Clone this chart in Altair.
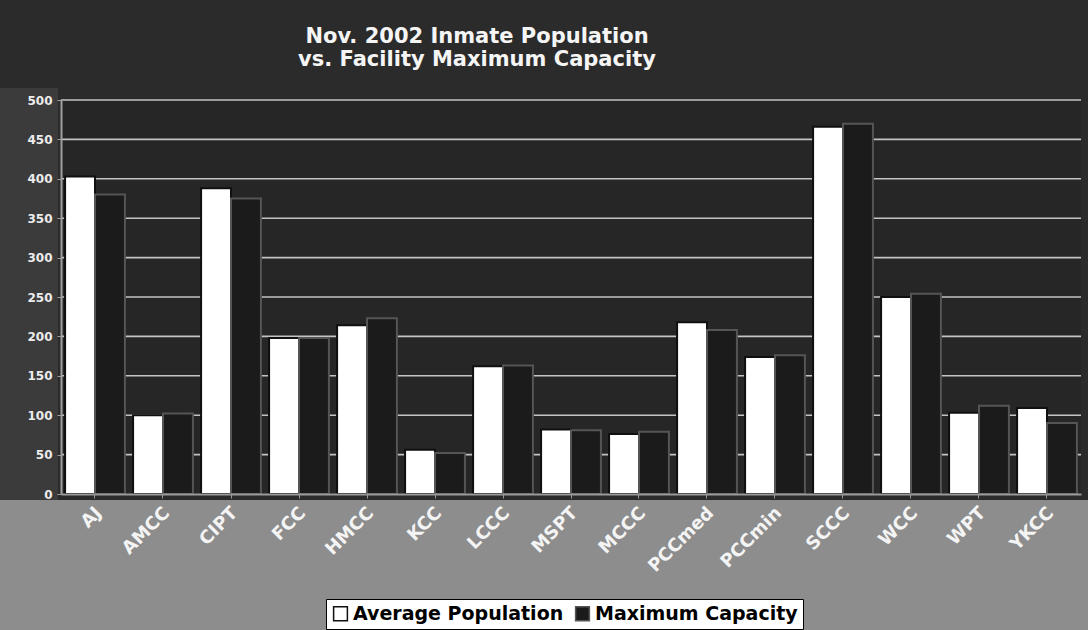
import altair as alt
import pandas as pd

# Facilities along the x axis
facilities = ["AJ", "AMCC", "CIPT", "FCC", "HMCC", "KCC", "LCCC", "MSPT",
              "MCCC", "PCCmed", "PCCmin", "SCCC", "WCC", "WPT", "YKCC"]
# November 2002 average inmate count per facility
avg_population = [403, 100, 388, 198, 214, 56, 162, 82, 76, 218, 174, 466, 250, 103, 109]
# Maximum design capacity per facility
max_capacity = [380, 102, 375, 198, 223, 52, 163, 81, 79, 208, 176, 470, 254, 112, 90]

series = ["Average Population", "Maximum Capacity"]
y_ticks = [0, 50, 100, 150, 200, 250, 300, 350, 400, 450, 500]
grid_values = y_ticks[1:]

W, H = 1020, 394

rows = []
for f, a, m in zip(facilities, avg_population, max_capacity):
    rows.append({"facility": f, "series": series[0], "value": a})
    rows.append({"facility": f, "series": series[1], "value": m})
df = pd.DataFrame(rows)
grid_df = pd.DataFrame({"v": grid_values})

y_scale = alt.Scale(domain=[0, 500], nice=False, zero=True)
y_axis = alt.Axis(
    values=y_ticks,
    grid=False,
    labelFont="DejaVu Sans",
    labelFontSize=12,
    labelFontWeight="bold",
    labelColor="#ececec",
    labelPadding=5,
    domainColor="#a0a0a0",
    domainWidth=2,
    tickColor="#a0a0a0",
    tickSize=4,
    zindex=1,
)

# Backdrop panels: grey strip under the category labels, dark column behind the value labels
panel = alt.Data(values=[{"k": 1}])
bottom_strip = alt.Chart(panel).mark_rect(color="#8d8d8d").encode(
    x=alt.value(-61), x2=alt.value(W + 7), y=alt.value(H + 6), y2=alt.value(H + 140)
)
left_strip = alt.Chart(panel).mark_rect(color="#3b3b3b").encode(
    x=alt.value(-61), x2=alt.value(-3), y=alt.value(-12), y2=alt.value(H + 6)
)

# Horizontal gridlines drawn behind the bars
grid = alt.Chart(grid_df).mark_rule(color="#c4c4c4", strokeWidth=1.6).encode(
    y=alt.Y("v:Q", scale=y_scale, axis=y_axis, title=None),
    x=alt.value(0),
    x2=alt.value(W),
)

bars = alt.Chart(df).mark_bar(strokeWidth=2).encode(
    x=alt.X(
        "facility:N",
        sort=facilities,
        title=None,
        scale=alt.Scale(paddingInner=0.12, paddingOuter=0.06),
        axis=alt.Axis(
            labelAngle=-45,
            labelAlign="right",
            labelBaseline="middle",
            labelFont="DejaVu Sans",
            labelFontSize=18,
            labelFontWeight="bold",
            labelColor="#f4f4f4",
            labelPadding=12,
            labelOffset=4,
            domainColor="#9a9a9a",
            domainWidth=2,
            tickColor="#9a9a9a",
            tickSize=4,
            zindex=1,
        ),
    ),
    xOffset=alt.XOffset("series:N", sort=series),
    y=alt.Y("value:Q", scale=y_scale, title=None, axis=y_axis),
    color=alt.Color(
        "series:N",
        sort=series,
        scale=alt.Scale(domain=series, range=["#ffffff", "#1b1b1b"]),
        legend=alt.Legend(
            title=None,
            orient="none",
            legendX=265,
            legendY=499,
            direction="horizontal",
            fillColor="#ffffff",
            strokeColor="#000000",
            padding=5,
            columnPadding=8,
            symbolType="square",
            symbolSize=190,
            symbolStrokeColor="#000000",
            symbolStrokeWidth=1.5,
            labelFont="DejaVu Sans",
            labelFontSize=19,
            labelFontWeight="bold",
            labelColor="#000000",
            labelLimit=400,
            symbolOffset=0,
            labelOffset=3,
        ),
    ),
    stroke=alt.Stroke(
        "series:N",
        scale=alt.Scale(domain=series, range=["#101010", "#555555"]),
        legend=None,
    ),
)

chart = (
    alt.layer(bottom_strip, left_strip, grid, bars)
    .properties(
        width=W,
        height=H,
        autosize=alt.AutoSizeParams(type="none"),
        padding={"left": 61, "top": 100, "right": 7, "bottom": 136},
        title=alt.TitleParams(
            ["Nov. 2002 Inmate Population", "vs. Facility Maximum Capacity"],
            font="DejaVu Sans",
            fontSize=21,
            fontWeight="bold",
            color="#f5f5f5",
            anchor="middle",
            frame="group",
            dx=-94,
            offset=18,
            lineHeight=23,
            zindex=1,
        ),
    )
    .configure(background="#2b2b2b")
    .configure_view(strokeWidth=0, fill="#262626")
)

chart.save("out.html", embed_options={"renderer": "svg", "actions": False})
